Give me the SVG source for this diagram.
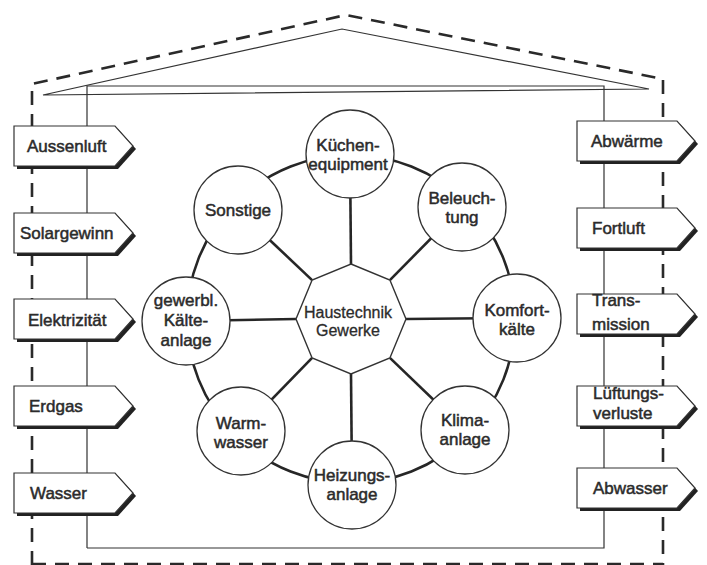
<svg xmlns="http://www.w3.org/2000/svg" width="707" height="565" viewBox="0 0 707 565">
<style>
  .bg{fill:#ffffff}
  .dash{fill:none;stroke:#2a2a2a;stroke-width:2.6;stroke-dasharray:14 9}
  .thin{fill:none;stroke:#333;stroke-width:1.2}
  .ring{fill:none;stroke:#262626;stroke-width:2.6}
  .spoke{fill:none;stroke:#262626;stroke-width:2.6}
  .circ{fill:#fff;stroke:#333;stroke-width:1.3}
  .oct{fill:#fff;stroke:#333;stroke-width:1.4}
  .box{fill:#fff;stroke:#333;stroke-width:1.2}
  .shadow{fill:#222}
  .t{font-family:"Liberation Sans",Arial,sans-serif;font-size:17px;fill:#2b2b2b;stroke:#2b2b2b;stroke-width:0.5}
  .c{text-anchor:middle}
  .h{font-family:"Liberation Sans",Arial,sans-serif;font-size:16px;fill:#2b2b2b;stroke:#2b2b2b;stroke-width:0.3;text-anchor:middle}
</style>
<rect class="bg" x="0" y="0" width="707" height="565"/>

<g id="building">
  <polyline class="dash" points="32,565 32,84 346,15 663,79 663,565"/>
  <line class="dash" x1="32" y1="564" x2="663" y2="564"/>
  <polygon class="thin" points="43,95 342,29 649,89"/>
  <polyline class="thin" points="87,548 87,86 604,86 604,548 87,548"/>
</g>

<g id="connectors">
  <circle class="ring" cx="351" cy="319" r="164"/>
  <line class="spoke" x1="351" y1="264" x2="350" y2="154"/>
  <line class="spoke" x1="389.9" y1="280.1" x2="462" y2="207"/>
  <line class="spoke" x1="406" y1="319" x2="517" y2="318"/>
  <line class="spoke" x1="389.9" y1="357.9" x2="465" y2="430"/>
  <line class="spoke" x1="351" y1="374" x2="352" y2="485"/>
  <line class="spoke" x1="312.1" y1="357.9" x2="241" y2="431"/>
  <line class="spoke" x1="296" y1="319" x2="186" y2="321"/>
  <line class="spoke" x1="312.1" y1="280.1" x2="238" y2="210"/>
</g>

<g id="center">
  <polygon class="oct" points="351,264 389.9,280.1 406,319 389.9,357.9 351,374 312.1,357.9 296,319 312.1,280.1"/>
  <text class="h" x="348" y="318">Haustechnik</text>
  <text class="h" x="348" y="336">Gewerke</text>
</g>

<g id="kuechen">
  <circle class="circ" cx="350" cy="154" r="44"/>
  <text class="t c" x="348" y="151">Küchen-</text>
  <text class="t c" x="348" y="170">equipment</text>
</g>
<g id="beleuchtung">
  <circle class="circ" cx="462" cy="207" r="44"/>
  <text class="t c" x="462" y="204">Beleuch-</text>
  <text class="t c" x="462" y="223">tung</text>
</g>
<g id="komfortkaelte">
  <circle class="circ" cx="517" cy="318" r="44"/>
  <text class="t c" x="517" y="316">Komfort-</text>
  <text class="t c" x="517" y="335">kälte</text>
</g>
<g id="klima">
  <circle class="circ" cx="465" cy="430" r="44"/>
  <text class="t c" x="465" y="426">Klima-</text>
  <text class="t c" x="465" y="445">anlage</text>
</g>
<g id="heizung">
  <circle class="circ" cx="352" cy="485" r="44"/>
  <text class="t c" x="352" y="481">Heizungs-</text>
  <text class="t c" x="352" y="500">anlage</text>
</g>
<g id="warmwasser">
  <circle class="circ" cx="241" cy="431" r="44"/>
  <text class="t c" x="241" y="429">Warm-</text>
  <text class="t c" x="241" y="448">wasser</text>
</g>
<g id="gewerbl">
  <circle class="circ" cx="186" cy="321" r="44"/>
  <text class="t c" x="186" y="306">gewerbl.</text>
  <text class="t c" x="186" y="326">Kälte-</text>
  <text class="t c" x="186" y="346">anlage</text>
</g>
<g id="sonstige">
  <circle class="circ" cx="238" cy="210" r="44"/>
  <text class="t c" x="238" y="216">Sonstige</text>
</g>

<g id="aussenluft">
  <polygon class="shadow" points="17,129 118,129 136,149 118,169 17,169"/>
  <polygon class="box" points="14,126 115,126 133,146 115,166 14,166"/>
  <text class="t" x="27" y="152">Aussenluft</text>
</g>
<g id="solargewinn">
  <polygon class="shadow" points="17,216 118,216 136,236 118,256 17,256"/>
  <polygon class="box" points="14,213 115,213 133,233 115,253 14,253"/>
  <text class="t" x="20" y="239">Solargewinn</text>
</g>
<g id="elektrizitaet">
  <polygon class="shadow" points="17,302 118,302 136,322 118,342 17,342"/>
  <polygon class="box" points="14,299 115,299 133,319 115,339 14,339"/>
  <text class="t" x="28" y="326">Elektrizität</text>
</g>
<g id="erdgas">
  <polygon class="shadow" points="17,389 118,389 136,409 118,429 17,429"/>
  <polygon class="box" points="14,386 115,386 133,406 115,426 14,426"/>
  <text class="t" x="29" y="412">Erdgas</text>
</g>
<g id="wasser">
  <polygon class="shadow" points="17,476 118,476 136,496 118,516 17,516"/>
  <polygon class="box" points="14,473 115,473 133,493 115,513 14,513"/>
  <text class="t" x="30" y="499">Wasser</text>
</g>

<g id="abwaerme">
  <polygon class="shadow" points="580,124 680,124 698,144 680,164 580,164"/>
  <polygon class="box" points="577,121 677,121 695,141 677,161 577,161"/>
  <text class="t" x="591" y="147">Abwärme</text>
</g>
<g id="fortluft">
  <polygon class="shadow" points="580,211 680,211 698,231 680,251 580,251"/>
  <polygon class="box" points="577,208 677,208 695,228 677,248 577,248"/>
  <text class="t" x="592" y="234">Fortluft</text>
</g>
<g id="transmission">
  <polygon class="shadow" points="580,297 680,297 698,317 680,337 580,337"/>
  <polygon class="box" points="577,294 677,294 695,314 677,334 577,334"/>
  <text class="t" x="592" y="306">Trans-</text>
  <text class="t" x="592" y="330">mission</text>
</g>
<g id="lueftungsverluste">
  <polygon class="shadow" points="580,389 680,389 698,409 680,429 580,429"/>
  <polygon class="box" points="577,386 677,386 695,406 677,426 577,426"/>
  <text class="t" x="593" y="399">Lüftungs-</text>
  <text class="t" x="593" y="419">verluste</text>
</g>
<g id="abwasser">
  <polygon class="shadow" points="580,471 680,471 698,491 680,511 580,511"/>
  <polygon class="box" points="577,468 677,468 695,488 677,508 577,508"/>
  <text class="t" x="593" y="494">Abwasser</text>
</g>
</svg>
